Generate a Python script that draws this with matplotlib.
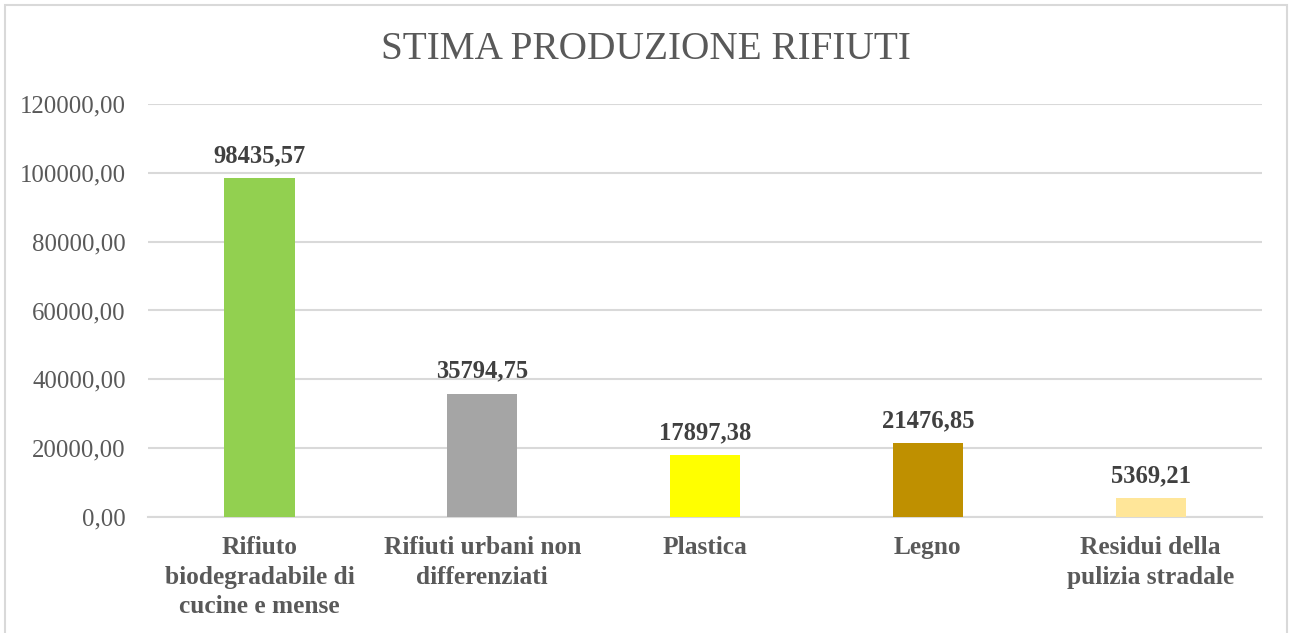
import matplotlib.pyplot as plt
from matplotlib.patches import Rectangle

categorie = ['Rifiuto\nbiodegradabile di\ncucine e mense',
             'Rifiuti urbani non\ndifferenziati',
             'Plastica',
             'Legno',
             'Residui della\npulizia stradale']
valori = [98435.57, 35794.75, 17897.38, 21476.85, 5369.21]
colori = ['#92d050', '#a5a5a5', '#ffff00', '#bf9000', '#ffe699']
yticks = [0, 20000, 40000, 60000, 80000, 100000, 120000]

plt.rcParams['font.family'] = ['Liberation Serif', 'DejaVu Serif']
grigio = '#595959'

fig = plt.figure(figsize=(12.92, 6.33), dpi=100)
ax = fig.add_axes([0.1146, 0.1833, 0.8622, 0.6524])

x = range(len(categorie))
bars = ax.bar(x, valori, width=0.315, color=colori, zorder=3)

ax.set_ylim(0, 120000)
ax.set_xlim(-0.5, len(categorie) - 0.5)
ax.set_yticks(yticks)
ax.set_yticklabels(['{:.2f}'.format(v).replace('.', ',') for v in yticks],
                   fontsize=17.8, color=grigio)
ax.set_xticks(list(x))
ax.set_xticklabels(categorie, fontsize=18.3, fontweight='bold', color=grigio,
                   linespacing=1.35, va='top')
ax.tick_params(axis='both', length=0)
ax.tick_params(axis='x', pad=14)
ax.tick_params(axis='y', pad=16)
ax.yaxis.grid(True, color='#d9d9d9', linewidth=1.5, zorder=0)
for s in ['top', 'right', 'left']:
    ax.spines[s].set_visible(False)
ax.spines['bottom'].set_color('#d9d9d9')
ax.spines['bottom'].set_linewidth(1.5)

for b, v in zip(bars, valori):
    ax.annotate('{:.2f}'.format(v).replace('.', ','),
                xy=(b.get_x() + b.get_width() / 2, b.get_height()),
                xytext=(0, 8), textcoords='offset points',
                ha='center', va='bottom', fontsize=17.7, fontweight='bold',
                color='#404040')

fig.text(0.5, 0.922, 'STIMA PRODUZIONE RIFIUTI', ha='center', va='center',
         fontsize=28.3, color=grigio)

fig.patches.append(Rectangle((5 / 1292, -0.01), 1282 / 1292, 1 - 5 / 633 + 0.01,
                             transform=fig.transFigure, fill=False,
                             edgecolor='#d9d9d9', linewidth=1.5))

fig.savefig('out.png', dpi=100)
